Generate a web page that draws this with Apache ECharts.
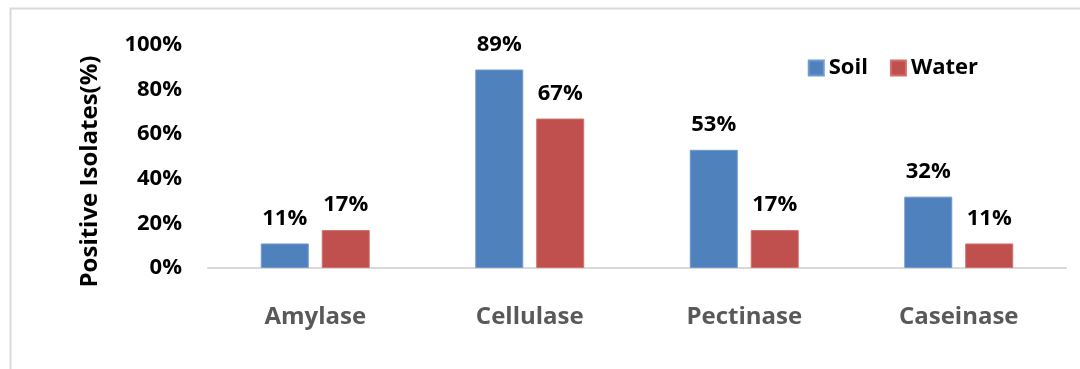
<!DOCTYPE html>
<html>
<head>
<meta charset="utf-8">
<script src="https://cdn.jsdelivr.net/npm/echarts@6/dist/echarts.min.js"></script>
<style>
  html, body { margin: 0; padding: 0; background: #fff; }
  #main { width: 1080px; height: 369px; }
</style>
</head>
<body>
<div id="main"></div>
<script>
// enzyme activity by source
var categories = ['Amylase', 'Cellulase', 'Pectinase', 'Caseinase'];
var soil = [11, 89, 53, 32];
var water = [17, 67, 17, 11];
var yTicks = [0, 20, 40, 60, 80, 100];

var font = '"Open Sans", Lato, sans-serif';

var chart = echarts.init(document.getElementById('main'));

var option = {
	animation : false,
	backgroundColor : '#fff',
	textStyle : { fontFamily : font },
	graphic : [{
		type : 'polyline',
		shape : { points : [[10.5, 400], [10.5, 8.5], [1090, 8.5]] },
		style : { stroke : '#d9d9d9', lineWidth : 2, fill : null },
		silent : true
	}],
	grid : {
		left : 208,
		right : 14,
		top : 45,
		bottom : 101
	},
	legend : {
		data : ['Soil', 'Water'],
		right : 97,
		top : 52,
		itemWidth : 15,
		itemHeight : 15,
		itemGap : 22,
		icon : 'rect',
		textStyle : { fontSize : 22, fontWeight : 'bold', color : '#000', fontFamily : font }
	},
	xAxis : [{
		type : 'category',
		data : categories,
		axisLine : { lineStyle : { color : '#d9d9d9', width : 2 } },
		axisTick : { show : false },
		axisLabel : {
			margin : 37,
			fontSize : 24,
			fontWeight : 'bold',
			color : '#595959',
			fontFamily : font
		}
	}],
	yAxis : [{
		type : 'value',
		min : 0,
		max : 100,
		interval : 20,
		name : 'Positive Isolates(%)',
		nameLocation : 'middle',
		nameRotate : 90,
		nameGap : 106,
		nameTextStyle : {
			fontSize : 24,
			fontWeight : 'bold',
			color : '#000',
			fontFamily : font,
			padding : [0, 30, 0, 0]
		},
		splitLine : { show : false },
		axisLine : { show : false },
		axisTick : { show : false },
		axisLabel : {
			margin : 26,
			fontSize : 22,
			fontWeight : 'bold',
			color : '#000',
			fontFamily : font,
			formatter : function(v) {
				return yTicks.indexOf(v) >= 0 ? v + '%' : '';
			}
		}
	}],
	series : [{
		name : 'Soil',
		type : 'bar',
		data : soil,
		barWidth : 48,
		barGap : '27%',
		itemStyle : { color : '#4F81BD', borderColor : '#6f9ad0', borderWidth : 1 },
		label : {
			show : true,
			position : 'top',
			distance : 14,
			formatter : '{c}%',
			fontSize : 22,
			fontWeight : 'bold',
			color : '#000',
			fontFamily : font
		}
	}, {
		name : 'Water',
		type : 'bar',
		data : water,
		barWidth : 48,
		itemStyle : { color : '#C0504D', borderColor : '#d06f6c', borderWidth : 1 },
		label : {
			show : true,
			position : 'top',
			distance : 14,
			formatter : '{c}%',
			fontSize : 22,
			fontWeight : 'bold',
			color : '#000',
			fontFamily : font
		}
	}]
};

chart.setOption(option);
</script>
</body>
</html>
